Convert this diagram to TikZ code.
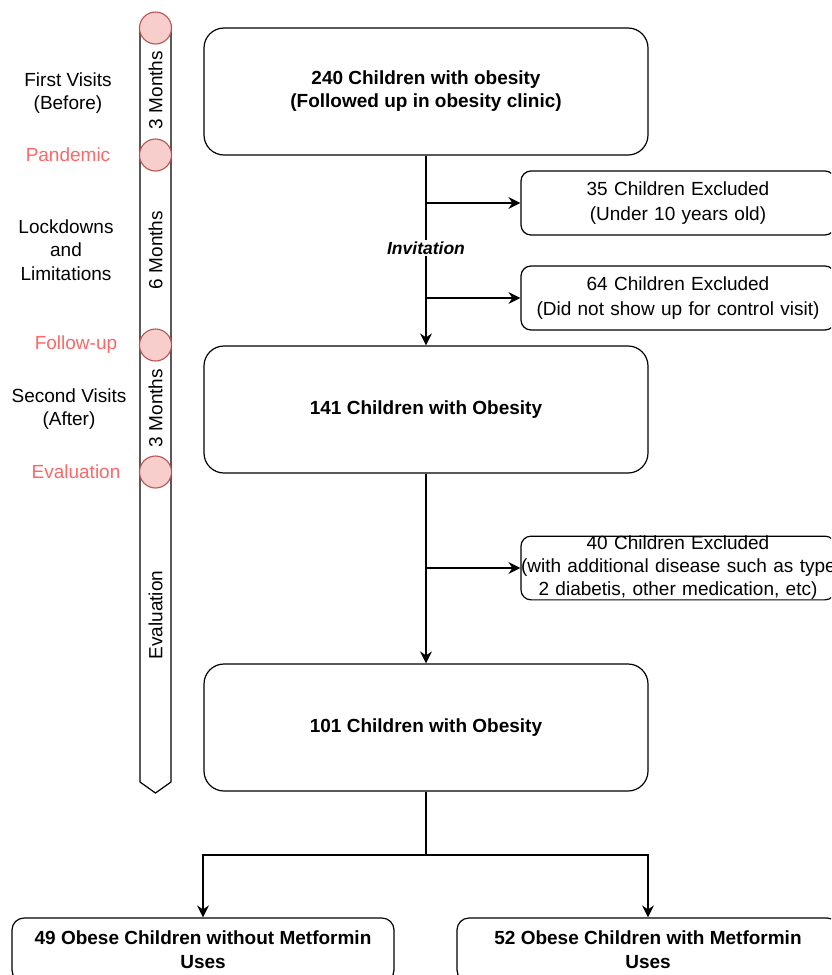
\documentclass[tikz,border=0pt]{standalone}
\usepackage{fontspec}
\setmainfont{Liberation Sans}
\usetikzlibrary{arrows.meta}
\definecolor{redtxt}{HTML}{FF6666}
\definecolor{circfill}{HTML}{F8CECC}
\definecolor{circdraw}{HTML}{B85450}
\begin{document}
\begin{tikzpicture}[x=1pt,y=-1pt,
  every node/.style={inner sep=0pt},
  box/.style={draw, line width=1.2pt, rounded corners=20pt, align=center,
    font=\bfseries\fontsize{19}{23}\selectfont, minimum width=444pt, minimum height=127pt},
  exbox/.style={draw, line width=1.2pt, rounded corners=10pt, align=center,
    font=\fontsize{19}{25}\selectfont, text width=314pt, minimum height=64pt},
  botbox/.style={draw, line width=1.2pt, rounded corners=12pt, align=center,
    font=\bfseries\fontsize{19}{24}\selectfont, minimum width=382pt, minimum height=64pt},
  arr/.style={line width=1.2pt, -{Stealth[length=12pt,width=12pt,inset=4pt]}},
  conn/.style={line width=1.2pt},
  circ/.style={circle, draw=circdraw, fill=circfill, line width=1.1pt, minimum size=32pt},
  vlab/.style={rotate=90, font=\fontsize{19}{22}\selectfont},
  llab/.style={align=center, font=\fontsize{19}{23.5}\selectfont},
  rlab/.style={font=\fontsize{19}{22}\selectfont, text=redtxt}
]
\useasboundingbox (0,0) rectangle (831,975);
\clip (0,0) rectangle (831,975);

% timeline
\draw[line width=1.2pt, fill=white] (140,28) -- (140,782) -- (155.5,793) -- (171,782) -- (171,28) -- cycle;
\node[vlab] (m1) at (155.5,90) {3 Months};
\node[vlab] (m2) at (155.5,250) {6 Months};
\node[vlab] (m3) at (155.5,408) {3 Months};
\node[vlab] (m4) at (155.5,615) {Evaluation};
\node[circ] (c1) at (155.5,28) {};
\node[circ] (c2) at (155.5,155) {};
\node[circ] (c3) at (155.5,345) {};
\node[circ] (c4) at (155.5,472) {};

% left labels
\node[llab] (l1) at (68,93) {First Visits\\(Before)};
\node[rlab] (l2) at (68,155) {Pandemic};
\node[llab] (l3) at (66,250) {Lockdowns\\and\\Limitations};
\node[rlab] (l4) at (76,345) {Follow-up};
\node[llab] (l5) at (69,409) {Second Visits\\(After)};
\node[rlab] (l6) at (76,472) {Evaluation};

% main boxes
\node[box] (b1) at (426,91.5) {240 Children with obesity\\(Followed up in obesity clinic)};
\node[box] (b2) at (426,409.5) {141 Children with Obesity};
\node[box] (b3) at (426,727.5) {101 Children with Obesity};

% exclusion boxes
\node[exbox] (e1) at (678,203) {35 Children Excluded\\(Under 10 years old)};
\node[exbox] (e2) at (678,298) {64 Children Excluded\\(Did not show up for control visit)};
\node[exbox, font=\fontsize{19}{23}\selectfont, minimum height=62pt] (e3) at (678,568)
  {40 Children Excluded\\\mbox{(with additional disease such as type}\\2 diabetis, other medication, etc)};

% bottom boxes
\node[botbox] (f1) at (203,950) {49 Obese Children without Metformin\\Uses};
\node[botbox] (f2) at (648,950) {52 Obese Children with Metformin\\Uses};

% connectors
\draw[arr] (b1.south) -- (b2.north);
\draw[arr] (b1.south |- e1.west) -- (e1.west);
\draw[arr] (b1.south |- e2.west) -- (e2.west);
\node[fill=white, inner sep=2pt, font=\bfseries\itshape\fontsize{17.5}{20}\selectfont] (inv) at (426,248) {Invitation};
\draw[arr] (b2.south) -- (b3.north);
\draw[arr] (b2.south |- e3.west) -- (e3.west);
\coordinate (sp) at (426,855);
\draw[conn] (b3.south) -- (sp);
\draw[arr] (sp) -| (f1.north);
\draw[arr] (sp) -| (f2.north);
\end{tikzpicture}
\end{document}
